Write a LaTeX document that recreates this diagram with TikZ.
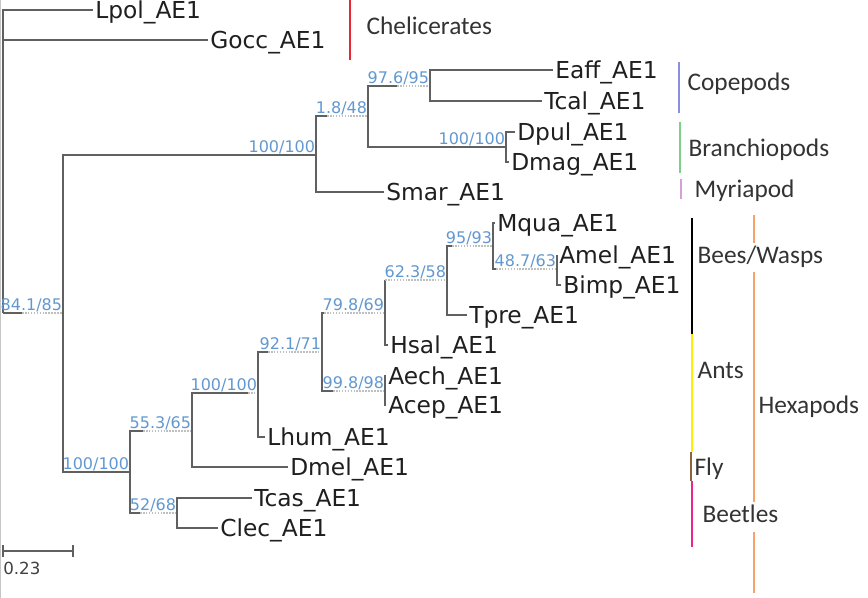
\documentclass[tikz,border=0pt]{standalone}
\usepackage{fontspec}
\setmainfont{DejaVu Sans}
\newfontfamily\grpfont{Carlito}
\usetikzlibrary{calc}
\definecolor{supblue}{RGB}{98,152,208}
\definecolor{brgray}{RGB}{96,96,96}
\definecolor{chelred}{RGB}{232,40,52}
\definecolor{copeblue}{RGB}{140,142,226}
\definecolor{branchgreen}{RGB}{128,206,140}
\definecolor{myrpink}{RGB}{212,160,214}
\definecolor{antyellow}{RGB}{255,238,0}
\definecolor{flybrown}{RGB}{140,100,62}
\definecolor{beetlepink}{RGB}{234,40,140}
\definecolor{hexorange}{RGB}{246,162,104}
\tikzset{
  branch/.style={draw=brgray, line width=1.4pt},
  weak/.style={draw=gray!50, densely dotted, line width=1.2pt},
  leaf/.style={font=\fontsize{17.5}{20}\selectfont, text=black!88, anchor=west,
    inner sep=1.5pt, text height=12.8pt, text depth=0pt},
  sup/.style={font=\fontsize{12}{14}\selectfont, text=supblue, anchor=south east,
    inner xsep=0.5pt, inner ysep=1.8pt, text height=8.8pt, text depth=0pt},
  grp/.style={font=\grpfont\fontsize{19}{22}\selectfont, text=black!80, anchor=west,
    inner sep=1pt, text height=12.2pt, text depth=0pt},
  grpbar/.style={line width=1.5pt},
}
\begin{document}
\begin{tikzpicture}[x=0.75pt,y=-0.75pt]
    \useasboundingbox (0,0) rectangle (868,598);
    \draw[gray!45, line width=0.8pt] (0.5,0) -- (0.5,598);
    % inner nodes of the tree
    \coordinate (R) at (3,313);
    \coordinate (A) at (63,313);  \coordinate (B) at (316,155);
    \coordinate (C) at (368,116); \coordinate (D) at (430,86);
    \coordinate (E) at (506,147); \coordinate (F) at (130,472);
    \coordinate (G) at (192,431); \coordinate (H) at (258,393);
    \coordinate (I) at (322,352); \coordinate (J) at (385,313);
    \coordinate (K) at (447,280); \coordinate (L) at (493,246);
    \coordinate (M) at (557,269); \coordinate (N) at (385,391);
    \coordinate (O) at (177,513);
    % leaves
    \node[leaf] (Lpol) at (93,10) {Lpol\_AE1};
    \node[leaf] (Gocc) at (208,40) {Gocc\_AE1};
    \node[leaf] (Eaff) at (553,70) {Eaff\_AE1};
    \node[leaf] (Tcal) at (542,101) {Tcal\_AE1};
    \node[leaf] (Dpul) at (515,132) {Dpul\_AE1};
    \node[leaf] (Dmag) at (509,162) {Dmag\_AE1};
    \node[leaf] (Smar) at (384,192) {Smar\_AE1};
    \node[leaf] (Mqua) at (495,223) {Mqua\_AE1};
    \node[leaf] (Amel) at (557,255) {Amel\_AE1};
    \node[leaf] (Bimp) at (561,285) {Bimp\_AE1};
    \node[leaf] (Tpre) at (467,315) {Tpre\_AE1};
    \node[leaf] (Hsal) at (388,345) {Hsal\_AE1};
    \node[leaf] (Aech) at (386,376) {Aech\_AE1};
    \node[leaf] (Acep) at (386,405) {Acep\_AE1};
    \node[leaf] (Lhum) at (265,437) {Lhum\_AE1};
    \node[leaf] (Dmel) at (288,467) {Dmel\_AE1};
    \node[leaf] (Tcas) at (252,498) {Tcas\_AE1};
    \node[leaf] (Clec) at (218,528) {Clec\_AE1};
    % branches
    \draw[branch] (R) |- (Lpol.west);
    \draw[branch] (R) |- (Gocc.west);
    \draw[branch] (R) -- ($(A)+(-41,0)$); \draw[weak] ($(A)+(-41,0)$) -- (A);
    \draw[branch] (A) |- (B);
    \draw[branch] (B) |- ($(C)+(-41,0)$); \draw[weak] ($(C)+(-41,0)$) -- (C);
    \draw[branch] (C) |- ($(D)+(-33,0)$); \draw[weak] ($(D)+(-33,0)$) -- (D);
    \draw[branch] (D) |- (Eaff.west);
    \draw[branch] (D) |- (Tcal.west);
    \draw[branch] (C) |- (E);
    \draw[branch] (E) |- (Dpul.west);
    \draw[branch] (E) |- (Dmag.west);
    \draw[branch] (B) |- (Smar.west);
    \draw[branch] (A) |- (F);
    \draw[branch] (F) |- ($(G)+(-49,0)$); \draw[weak] ($(G)+(-49,0)$) -- (G);
    \draw[branch] (G) |- ($(H)+(-10,0)$); \draw[weak] ($(H)+(-10,0)$) -- (H);
    \draw[branch] (G) |- (Dmel.west);
    \draw[branch] (H) |- ($(I)+(-54,0)$); \draw[weak] ($(I)+(-54,0)$) -- (I);
    \draw[branch] (H) |- (Lhum.west);
    \draw[branch] (I) |- ($(J)+(-61,0)$); \draw[weak] ($(J)+(-61,0)$) -- (J);
    \draw[branch] (I) |- ($(N)+(-52,0)$); \draw[weak] ($(N)+(-52,0)$) -- (N);
    \draw[branch] (J) |- ($(K)+(-62,0)$); \draw[weak] ($(K)+(-62,0)$) -- (K);
    \draw[branch] (J) |- (Hsal.west);
    \draw[branch] (K) |- ($(L)+(-41,0)$); \draw[weak] ($(L)+(-41,0)$) -- (L);
    \draw[branch] (K) |- (Tpre.west);
    \draw[branch] (L) |- (Mqua.west);
    \draw[branch] (L) |- ($(M)+(-61,0)$); \draw[weak] ($(M)+(-61,0)$) -- (M);
    \draw[branch] (M) |- (Amel.west);
    \draw[branch] (M) |- (Bimp.west);
    \draw[branch] (N) |- (Aech.west);
    \draw[branch] (N) |- (Acep.west);
    \draw[branch] (F) |- ($(O)+(-37,0)$); \draw[weak] ($(O)+(-37,0)$) -- (O);
    \draw[branch] (O) |- (Tcas.west);
    \draw[branch] (O) |- (Clec.west);
    % support values
    \node[sup] (supA) at (A) {84.1/85};
    \node[sup] (supB) at (B) {100/100};
    \node[sup] (supC) at (C) {1.8/48};
    \node[sup] (supD) at (D) {97.6/95};
    \node[sup] (supE) at (E) {100/100};
    \node[sup] (supF) at (F) {100/100};
    \node[sup] (supG) at (G) {55.3/65};
    \node[sup] (supH) at (H) {100/100};
    \node[sup] (supI) at (I) {92.1/71};
    \node[sup] (supJ) at (J) {79.8/69};
    \node[sup] (supK) at (K) {62.3/58};
    \node[sup] (supL) at (L) {95/93};
    \node[sup] (supM) at (M) {48.7/63};
    \node[sup] (supN) at (N) {99.8/98};
    \node[sup] (supO) at (O) {52/68};
    % scale bar
    \coordinate (s0) at (3,551); \coordinate (s1) at (73,551);
    \draw[branch] (s0) -- (s1);
    \draw[branch] ($(s0)+(0,-6)$) -- ($(s0)+(0,6)$);
    \draw[branch] ($(s1)+(0,-6)$) -- ($(s1)+(0,6)$);
    \node[font=\fontsize{12.5}{15}\selectfont, text=black!75, anchor=west, inner sep=0pt] (scale) at (3,568.5) {0.23};
    % groups
    \draw[grpbar, chelred] (350,0) -- (350,60);
    \node[grp] (chel) at (365,26.5) {Chelicerates};
    \draw[grpbar, copeblue] (679,62) -- (679,113);
    \node[grp] (cope) at (686,82) {Copepods};
    \draw[grpbar, branchgreen] (680,122) -- (680,173);
    \node[grp] (bran) at (687,148) {Branchiopods};
    \draw[grpbar, myrpink] (681,179) -- (681,199);
    \node[grp] (myri) at (693,189) {Myriapod};
    \draw[grpbar, black] (692,218) -- (692,334);
    \node[grp] (bees) at (696,255) {Bees/Wasps};
    \draw[grpbar, antyellow] (692,334) -- (692,452);
    \node[grp] (ants) at (696,370) {Ants};
    \draw[grpbar, flybrown] (691,452) -- (691,481);
    \node[grp] (fly) at (693,467.5) {Fly};
    \draw[grpbar, beetlepink] (692,481) -- (692,547);
    \node[grp] (beet) at (701,514.5) {Beetles};
    \draw[grpbar, hexorange] (754,215) -- (754,243);
    \draw[grpbar, hexorange] (754,272) -- (754,502);
    \draw[grpbar, hexorange] (754,532) -- (754,593);
    \node[grp] (hexa) at (757,405.5) {Hexapods};
\end{tikzpicture}
\end{document}
